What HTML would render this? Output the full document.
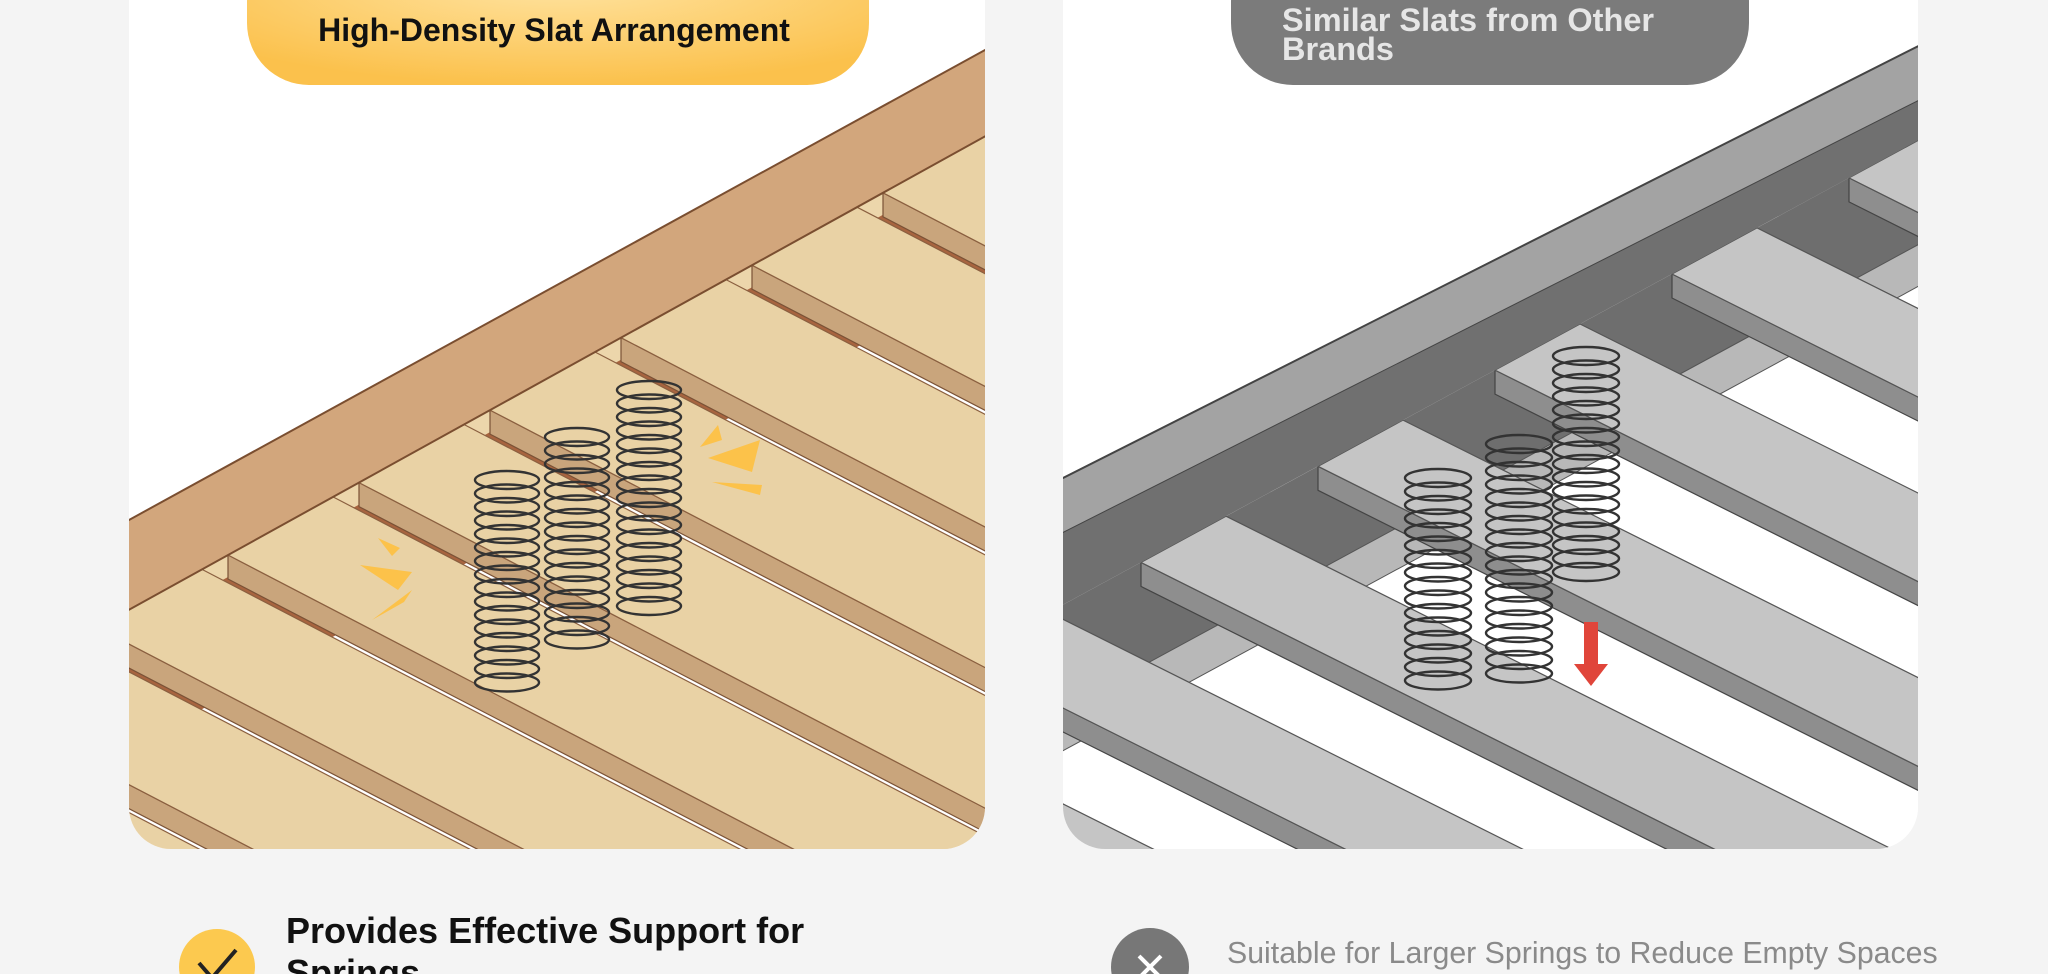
<!DOCTYPE html>
<html><head><meta charset="utf-8">
<style>
html,body{margin:0;padding:0;background:#f4f4f4;width:2048px;height:974px;overflow:hidden;font-family:"Liberation Sans",sans-serif;}
#svg{position:absolute;left:0;top:0;}
</style></head>
<body>
<svg id="svg" width="2048" height="974" xmlns="http://www.w3.org/2000/svg">
<defs>
<clipPath id="cl"><rect x="129" y="-60" width="856" height="909" rx="42"/></clipPath>
<clipPath id="cr"><rect x="1063" y="-60" width="855" height="909" rx="42"/></clipPath>
<radialGradient id="yg" cx="0.5" cy="0.3" r="0.7"><stop offset="0" stop-color="#ffe3a0"/><stop offset="1" stop-color="#fbc14c"/></radialGradient>
</defs>
<rect x="129" y="-60" width="856" height="909" rx="42" fill="#fff"/>
<rect x="1063" y="-60" width="855" height="909" rx="42" fill="#fff"/>
<g id="L" clip-path="url(#cl)"></g>
<g id="R" clip-path="url(#cr)"></g>
<rect x="247" y="-60" width="622" height="145" rx="62" fill="url(#yg)"/>
<rect x="1231" y="-60" width="518" height="145" rx="62" fill="#7b7b7b"/>
<text x="554" y="41" text-anchor="middle" font-family="Liberation Sans, sans-serif" font-weight="bold" font-size="32" fill="#111">High-Density Slat Arrangement</text>
<text x="1282" y="31" font-family="Liberation Sans, sans-serif" font-weight="bold" font-size="32.5" fill="#e6e6e6">Similar Slats from Other</text>
<text x="1282" y="60" font-family="Liberation Sans, sans-serif" font-weight="bold" font-size="32.5" fill="#e6e6e6">Brands</text>
<circle cx="217" cy="967" r="38" fill="#fcc94f"/>
<path d="M199 963 L212 978 L236 950" stroke="#222" stroke-width="4" fill="none"/>
<circle cx="1150" cy="967" r="39" fill="#777"/>
<path d="M1139 956 L1161 978 M1161 956 L1139 978" stroke="#fff" stroke-width="4"/>
<text x="286" y="943" font-family="Liberation Sans, sans-serif" font-weight="bold" font-size="36" fill="#111">Provides Effective Support for</text>
<text x="286" y="985" font-family="Liberation Sans, sans-serif" font-weight="bold" font-size="36" fill="#111">Springs</text>
<text x="1227" y="963" font-family="Liberation Sans, sans-serif" font-size="30.3" fill="#8a8a8a">Suitable for Larger Springs to Reduce Empty Spaces</text>
</svg>
<script>
var NS="http://www.w3.org/2000/svg";
function poly(g,pts,fill,stroke,sw){var p=document.createElementNS(NS,"polygon");p.setAttribute("points",pts.map(function(a){return a[0].toFixed(1)+","+a[1].toFixed(1)}).join(" "));p.setAttribute("fill",fill);if(stroke){p.setAttribute("stroke",stroke);p.setAttribute("stroke-width",sw||1.5);p.setAttribute("stroke-linejoin","round");}g.appendChild(p);}
function el(g,cx,cy,rx,ry,c,w){var e=document.createElementNS(NS,"ellipse");e.setAttribute("cx",cx);e.setAttribute("cy",cy);e.setAttribute("rx",rx);e.setAttribute("ry",ry);e.setAttribute("fill","none");e.setAttribute("stroke",c);e.setAttribute("stroke-width",w);g.appendChild(e);}
function add(P,Q){return [P[0]+Q[0],P[1]+Q[1]];}
var L=document.getElementById("L");
function ybL(x){return 555-0.553*(x-228);}
function ytL(x){return 520-0.549*(x-129);}
function BL(x){return [x,ybL(x)];}
poly(L,[[0,ybL(0)],[1100,ybL(1100)],[1100,1000],[0,1000]],"#ecd6ab");
var D=[1400,728];
var sl=[];for(var k=-4;k<=6;k++)sl.push(228+k*131);
sl.forEach(function(s){var a=add(BL(s+105),[0,22]),b=BL(s+131);
 poly(L,[add(a,[60,31]),add(b,[60,53]),add(add(b,[60,53]),D),add(add(a,[60,31]),D)],"#fff");
 poly(L,[a,add(b,[0,22]),add(add(b,[0,22]),[110,57]),add(a,[110,57])],"#a8643f");
});
sl.forEach(function(s){var a=BL(s),b=BL(s+105);
 poly(L,[a,add(a,D),add(add(a,D),[0,24]),add(a,[0,24])],"#c9a57c","#7a5236",1.2);
 poly(L,[a,b,add(b,D),add(a,D)],"#e9d2a5","#8b6040",1.2);
});
poly(L,[[0,ytL(0)],[1100,ytL(1100)],[1100,ybL(1100)],[0,ybL(0)]],"#d2a67c","#7a4e30",2);
poly(L,[[360,565],[412,572],[398,590]],"#fcc24a");
poly(L,[[378,538],[400,548],[392,556]],"#fcc24a");
poly(L,[[372,620],[412,590],[404,602]],"#fcc24a");
poly(L,[[708,458],[760,440],[752,472]],"#fcc24a");
poly(L,[[700,447],[718,425],[722,440]],"#fcc24a");
poly(L,[[712,482],[762,485],[760,495]],"#fcc24a");
function spring(g,cx,t,b,rx){for(var y=t;y<=b;y+=13.5)el(g,cx,y,rx,9,"#333",2.4);}
spring(L,507,480,686,32);spring(L,577,437,652,32);spring(L,649,390,614,32);
var R=document.getElementById("R");
function ybR(x){return 463-0.543*(x-1324);}
function ytR(x){return 478-0.505*(x-1063);}
function BR(x){return [x,ybR(x)];}
poly(R,[[1000,ybR(1000)],[2000,ybR(2000)],[2000,1000],[1000,1000]],"#fff");
var DR=[1400,700];
var sr=[];for(var k=-3;k<=4;k++)sr.push(1141+k*177);
sr.forEach(function(s){var a=BR(s+85),b=BR(s+177);
 poly(R,[a,b,add(b,[100,50]),add(a,[100,50])],"#6e6e6e");
 poly(R,[add(a,[100,50]),add(b,[100,50]),add(b,[140,70]),add(a,[140,70])],"#b8b8b8","#555",1);
});
sr.forEach(function(s){var a=BR(s),b=BR(s+85);
 poly(R,[a,add(a,DR),add(add(a,DR),[0,24]),add(a,[0,24])],"#8e8e8e","#444",1.2);
 poly(R,[a,b,add(b,DR),add(a,DR)],"#c5c5c5","#555",1.2);
});
poly(R,[[1000,ytR(1000)],[2000,ytR(2000)],[2000,ytR(2000)+55],[1000,ytR(1000)+55]],"#a3a3a3","#444",2);
poly(R,[[1000,ytR(1000)+55],[2000,ytR(2000)+55],[2000,ybR(2000)],[1000,ybR(1000)]],"#707070");
spring(R,1438,478,686,33);spring(R,1519,444,680,33);spring(R,1586,356,578,33);
poly(R,[[1584,622],[1598,622],[1598,664],[1608,664],[1591,686],[1574,664],[1584,664]],"#e0453a");
</script>
</body></html>
